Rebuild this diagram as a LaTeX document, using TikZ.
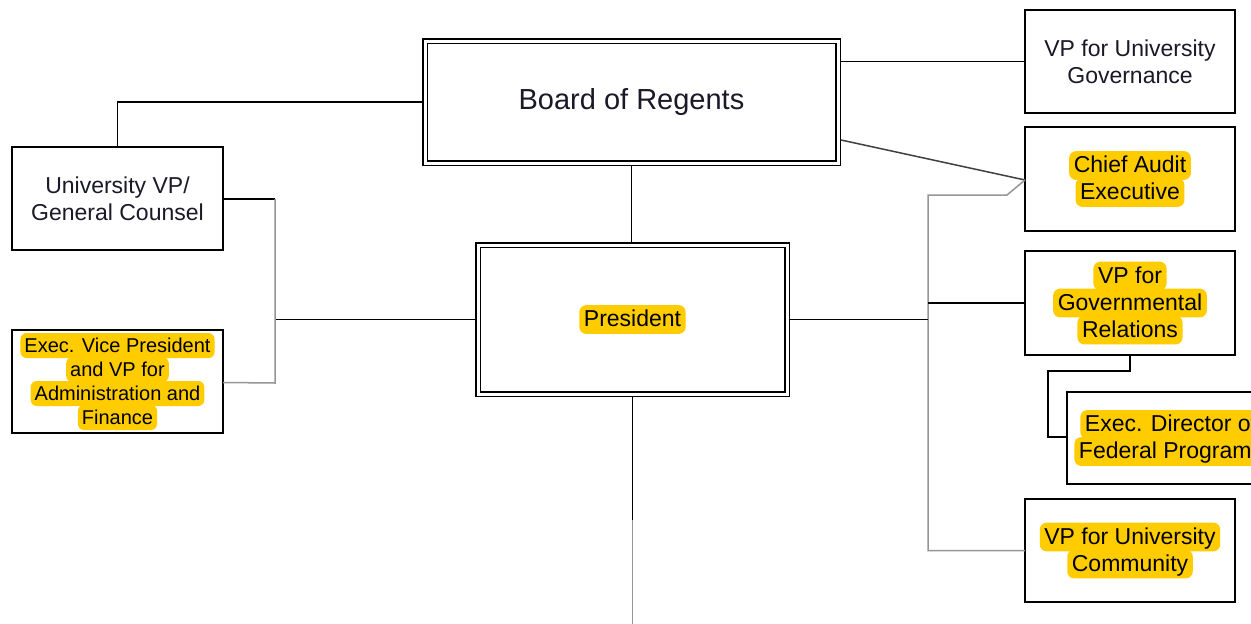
\documentclass[tikz,border=0pt]{standalone}
\usepackage{fontspec}
\setmainfont{Liberation Sans}
\usetikzlibrary{calc}
\definecolor{hlcolor}{RGB}{255,204,0}
\definecolor{linegray}{RGB}{150,150,150}
\definecolor{txtdark}{RGB}{25,25,40}
\tikzset{
  hlnode/.style={anchor=base, draw=none, shape=rectangle, minimum width=0pt, minimum height=0pt,
    outer sep=0pt, fill=hlcolor, rounded corners=0.3em, inner xsep=0.2em, inner ysep=0.1em,
    text height=0.85em, text depth=0.2em, text=black},
}
\newcommand\hlt[1]{\tikz[baseline]\node[hlnode]{#1};}
\tikzset{
  box/.style={draw, line width=1.5pt, fill=white, align=center, text=txtdark,
    minimum width=210pt, minimum height=103pt, inner sep=2pt, outer sep=0pt,
    font=\fontsize{23}{27}\selectfont},
  smallbox/.style={box, font=\fontsize{20}{24}\selectfont},
  dbox/.style={draw, line width=1.5pt, double, double distance=3pt, fill=white,
    align=center, text=txtdark, inner sep=2pt, outer sep=3pt},
  conn/.style={line width=1.5pt, black},
  gconn/.style={line width=1.5pt, linegray},
}
\begin{document}
\begin{tikzpicture}[x=1pt,y=-1pt]
\lineskiplimit=-100pt\relax
\lineskip=0pt\relax
\clip (0,0) rectangle (1251,624);
\fill[white] (0,0) rectangle (1251,624);
% nodes
\node[dbox, minimum width=413pt, minimum height=122pt, font=\fontsize{29}{33}\selectfont] (board) at (631.5,102) {Board of Regents};
\node[dbox, minimum width=309pt, minimum height=149pt, font=\fontsize{23}{27}\selectfont] (pres) at (632.5,319.5) {\hlt{President}};
\node[box, minimum width=211pt] (univvp) at (117.5,198.5) {University VP/\\General Counsel};
\node[smallbox, minimum width=211pt] (execvp) at (117.5,381.5) {\hlt{Exec. Vice President}\\\hlt{and VP for}\\\hlt{Administration and}\\\hlt{Finance}};
\node[box] (vpgov) at (1130,61.5) {VP for University\\Governance};
\node[box, minimum height=104pt] (audit) at (1130,179) {\hlt{Chief Audit}\\\hlt{Executive}};
\node[box, minimum height=104pt] (govrel) at (1130,303) {\hlt{VP for}\\\hlt{Governmental}\\\hlt{Relations}};
\node[box, minimum width=208pt, minimum height=92pt] (execdir) at (1171,438) {\hlt{Exec. Director of}\\\hlt{Federal Programs}};
\node[box] (vpcomm) at (1130,550.5) {\hlt{VP for University}\\\hlt{Community}};
% coordinates
\coordinate (rbus) at (928,195);
\coordinate (lbus) at (275,199);
\coordinate (presdown) at (632.5,520);
\coordinate (presend) at (632.5,630);
% connectors
\draw[conn] (board.west) -| (univvp.north);
\draw[conn] (vpgov.west) -- (vpgov.west -| board.east);
\draw[line width=1.5pt, black!75] ([yshift=-38pt]board.east) -- ([yshift=-1pt]audit.west);
\draw[gconn] ([yshift=-1pt]audit.west) -- (1007,195) -- (rbus) -- (rbus |- vpcomm.west) -- (vpcomm.west);
\draw[conn] (pres.east) -- (pres.east -| rbus);
\draw[conn] (govrel.west -| rbus) -- (govrel.west);
\draw[conn] (board.south) -- (board.south |- pres.north);
\draw[conn] (pres.south) -- (presdown);
\draw[gconn] (presdown) -- (presend);
\draw[conn] (pres.west) -- (pres.west -| lbus);
\draw[conn] (univvp.east |- lbus) -- (lbus);
\draw[gconn] (lbus) -- (lbus |- 0,383) -- ([yshift=-1pt]execvp.east);
\draw[conn] (govrel.south) -- ++(0,16) -| (1048,437) -- (execdir.west |- 0,437);
\end{tikzpicture}
\end{document}
